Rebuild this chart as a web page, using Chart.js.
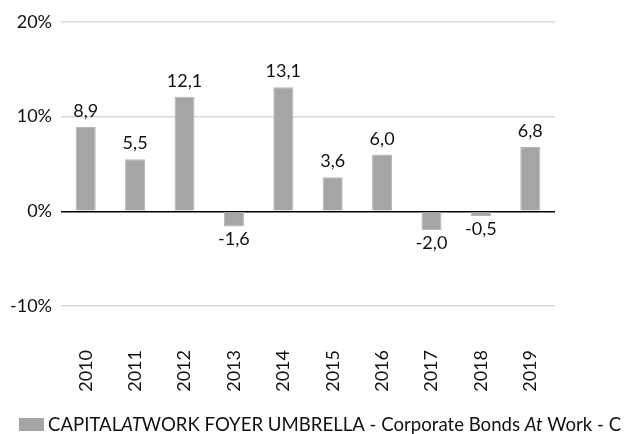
<!DOCTYPE html>
<html>
<head>
<meta charset="utf-8">
<script src="https://cdn.jsdelivr.net/npm/chart.js@4"></script>
<style>
html,body{margin:0;padding:0;background:#fff;}
canvas{display:block;}
</style>
</head>
<body>
<canvas id="c" width="624" height="434"></canvas>
<script>
const categories = ['2010','2011','2012','2013','2014','2015','2016','2017','2018','2019'];
const values = [8.9, 5.5, 12.1, -1.6, 13.1, 3.6, 6.0, -2.0, -0.5, 6.8];
const yTicks = [-10, 0, 10, 20];
const seriesName = [
  {t:'CAPITAL', i:false},
  {t:'AT', i:true},
  {t:'WORK FOYER UMBRELLA - Corporate Bonds ', i:false},
  {t:'At', i:true},
  {t:' Work - C', i:false}
];

const FONT = 'Lato';
const TEXT = '#111';

const valueLabels = {
  id: 'valueLabels',
  afterDatasetsDraw(chart) {
    const ctx = chart.ctx;
    const meta = chart.getDatasetMeta(0);
    ctx.save();
    ctx.font = '18px ' + FONT;
    ctx.fillStyle = TEXT;
    ctx.textAlign = 'center';
    meta.data.forEach((bar, i) => {
      const v = values[i];
      const s = v.toFixed(1).replace('.', ',');
      if (v >= 0) {
        ctx.textBaseline = 'alphabetic';
        ctx.fillText(s, bar.x, bar.y - 10);
      } else {
        ctx.textBaseline = 'top';
        ctx.fillText(s, bar.x, bar.y + 4);
      }
    });
    ctx.restore();
  }
};

const customLegend = {
  id: 'customLegend',
  afterDraw(chart) {
    const ctx = chart.ctx;
    ctx.save();
    ctx.fillStyle = '#a5a5a5';
    ctx.fillRect(19, 418, 25, 13);
    let x = 48;
    const y = 431;
    ctx.textBaseline = 'alphabetic';
    ctx.textAlign = 'left';
    ctx.fillStyle = TEXT;
    seriesName.forEach(p => {
      ctx.font = (p.i ? 'italic ' : '') + '18.6px ' + FONT;
      ctx.fillText(p.t, x, y);
      x += ctx.measureText(p.t).width;
    });
    ctx.restore();
  }
};

new Chart(document.getElementById('c'), {
  type: 'bar',
  data: {
    labels: categories,
    datasets: [{
      label: seriesName.map(p => p.t).join(''),
      data: values,
      backgroundColor: '#a5a5a5',
      borderColor: '#b5b5b5',
      borderWidth: 1,
      barPercentage: 0.9,
      categoryPercentage: 0.45
    }]
  },
  options: {
    responsive: false,
    animation: false,
    devicePixelRatio: 1,
    layout: { padding: { top: 22, right: 69, left: 0, bottom: 0 } },
    plugins: {
      legend: { display: false },
      tooltip: { enabled: false }
    },
    scales: {
      x: {
        grid: { display: false },
        border: { display: false },
        ticks: {
          font: { family: FONT, size: 18 },
          color: TEXT,
          minRotation: 90,
          maxRotation: 90,
          padding: 36
        },
        afterFit(scale) { scale.height = 128; }
      },
      y: {
        min: -10,
        max: 20,
        border: { display: false },
        grid: {
          drawTicks: false,
          color: c => c.tick.value === 0 ? '#000' : '#d9d9d9',
          lineWidth: 1.5
        },
        afterBuildTicks(scale) { scale.ticks = yTicks.map(v => ({ value: v })); },
        ticks: {
          font: { family: FONT, size: 18 },
          color: TEXT,
          padding: 9,
          callback: v => v + '%'
        },
        afterFit(scale) { scale.width = 61; }
      }
    }
  },
  plugins: [valueLabels, customLegend]
});
</script>
</body>
</html>
